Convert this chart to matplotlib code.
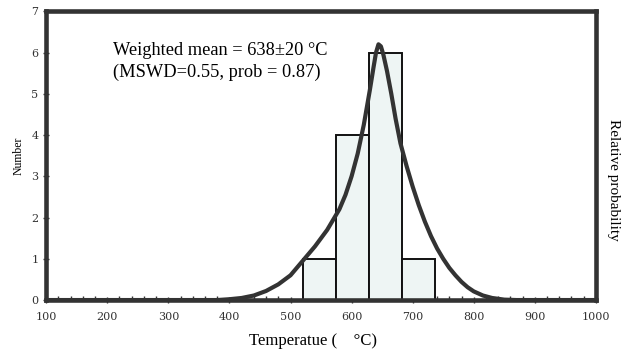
import matplotlib
matplotlib.use("Agg")
import matplotlib.pyplot as plt
from matplotlib.ticker import MultipleLocator

# histogram bins (deg C) and counts
bin_edges = [520, 574, 628, 682, 736]
counts = [1, 4, 6, 1]

# relative probability curve (scaled to the count axis)
curve_t = [100, 380, 400, 420, 440, 460, 480, 500, 520, 540, 560, 580, 590, 600, 610,
           620, 630, 636, 640, 644, 648, 652, 658, 665, 672, 680, 690, 700, 710, 720,
           730, 740, 750, 760, 770, 780, 790, 800, 815, 830, 850, 870, 1000]
curve_p = [0.0, 0.0, 0.02, 0.05, 0.11, 0.22, 0.38, 0.6, 0.95, 1.3, 1.7, 2.2, 2.55, 3.0, 3.55,
           4.25, 5.1, 5.65, 6.0, 6.2, 6.15, 5.95, 5.55, 5.0, 4.4, 3.8, 3.25, 2.75, 2.3, 1.9,
           1.55, 1.25, 1.0, 0.78, 0.6, 0.44, 0.31, 0.21, 0.11, 0.05, 0.01, 0.0, 0.0]

fig = plt.figure(figsize=(6.24, 3.53), dpi=100)
ax = fig.add_axes([0.074, 0.150, 0.881, 0.818])

widths = [b - a for a, b in zip(bin_edges[:-1], bin_edges[1:])]
ax.bar(bin_edges[:-1], counts, width=widths, align="edge",
       color="#eef5f4", edgecolor="#111111", linewidth=1.4, zorder=2)
ax.plot(curve_t, curve_p, color="#333333", lw=3.0, solid_capstyle="round",
        solid_joinstyle="round", zorder=3)

ax.set_xlim(100, 1000)
ax.set_ylim(0, 7)
for s in ax.spines.values():
    s.set_linewidth(3.3)
    s.set_color("#333333")

ax.xaxis.set_major_locator(MultipleLocator(100))
ax.xaxis.set_minor_locator(MultipleLocator(20))
ax.yaxis.set_major_locator(MultipleLocator(1))
ax.tick_params(axis="both", which="major", direction="inout", length=5, width=1,
               color="#333333", labelsize=8, labelcolor="#333333")
ax.tick_params(axis="x", which="major", pad=6)
ax.tick_params(axis="y", which="major", pad=3)
ax.tick_params(axis="x", which="minor", direction="in", length=3, width=1, color="#333333")
for lab in ax.get_xticklabels() + ax.get_yticklabels():
    lab.set_family("DejaVu Serif")

fig.text(0.502, 0.034, "Temperatue (    \u00b0C)", family="Liberation Serif", fontsize=12,
         ha="center", va="center")
ax.set_ylabel("Number", family="Liberation Serif", fontsize=8.5, labelpad=5)

ax.text(0.122, 0.895, "Weighted mean = 638\u00b120 \u00b0C\n(MSWD=0.55, prob = 0.87)",
        transform=ax.transAxes, family="Liberation Serif", fontsize=13.2,
        va="top", ha="left", linespacing=1.4)

fig.text(0.983, 0.49, "Relative probability", rotation=-90, family="Liberation Serif",
         fontsize=11, va="center", ha="center")

fig.savefig("out.png", dpi=100)
